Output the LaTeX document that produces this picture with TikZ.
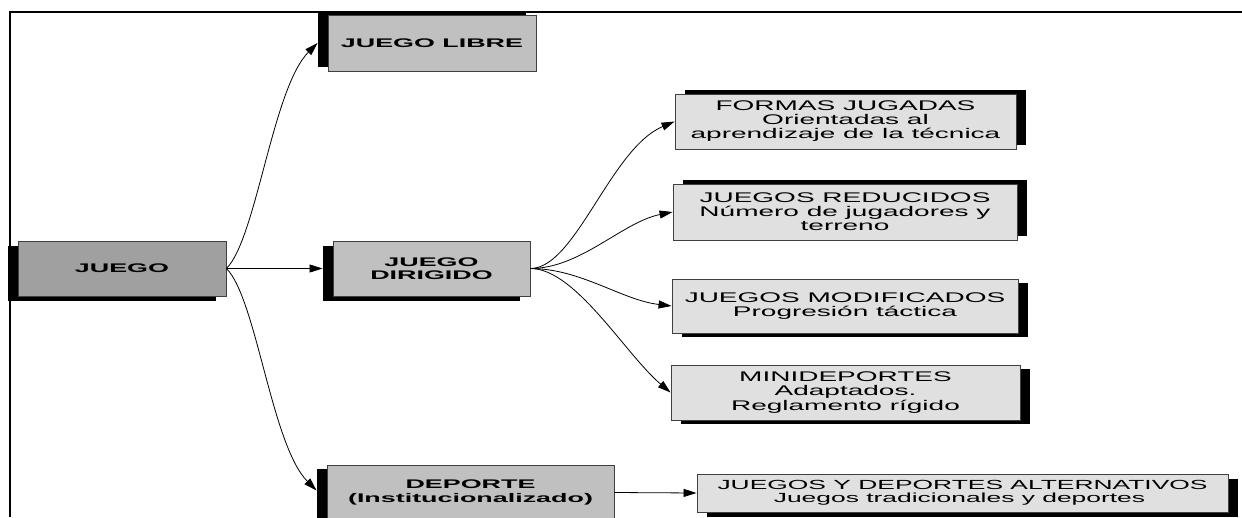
\documentclass[tikz,border=0pt]{standalone}
\usepackage{fontspec}
\setmainfont{Liberation Sans}
\newfontfamily\stretchfont[FakeStretch=2.0]{Liberation Sans}
\newfontfamily\stretchbold[FakeStretch=2.15]{Liberation Sans}
\usetikzlibrary{arrows.meta,shadows,calc}
\definecolor{darkfill}{HTML}{A0A0A0}
\definecolor{midfill}{HTML}{C0C0C0}
\definecolor{lightfill}{HTML}{E0E0E0}
\definecolor{boxline}{HTML}{404040}
\begin{document}
\begin{tikzpicture}[x=1pt,y=-1pt,
  box/.style={draw=boxline, line width=0.9pt, inner sep=0pt, align=center, text=black},
  boldbox/.style={box, font=\stretchbold\bfseries\fontsize{12.5pt}{13.5pt}\selectfont},
  textbox/.style={box, fill=lightfill, font=\stretchfont\fontsize{14pt}{14pt}\selectfont},
  shadowat/.style 2 args={general shadow={fill=black, shadow xshift=#1, shadow yshift=#2}},
  conn/.style={draw=black, line width=0.8pt, -{Triangle[length=13pt,width=8pt]}},
  frameline/.style={line width=1.3pt}
]
\useasboundingbox (0,0) rectangle (1242,517);
\clip (0,0) rectangle (1242,517);
\fill[white] (0,0) rectangle (1242,517);
\draw[frameline] (10,517) -- (10,12) -- (1242,12);

\node[boldbox, fill=darkfill, minimum width=208pt, minimum height=55pt, shadowat={-10pt}{-5pt}] (juego) at (122,268.5) {JUEGO};
\node[boldbox, fill=midfill, minimum width=208pt, minimum height=56pt, shadowat={-10pt}{4pt}] (libre) at (432,43) {JUEGO LIBRE};
\node[boldbox, fill=midfill, minimum width=197pt, minimum height=55pt, shadowat={-10pt}{-5pt}] (dirigido) at (431.5,268.5) {JUEGO\\DIRIGIDO};
\node[boldbox, fill=midfill, minimum width=287pt, minimum height=55pt, shadowat={-10pt}{-4pt}] (deporte) at (470.5,492.5) {DEPORTE\\(Institucionalizado)};

\node[textbox, minimum width=341pt, minimum height=55pt, shadowat={10pt}{4pt}] (formas) at (845.5,121.5) {FORMAS JUGADAS\\Orientadas al\\aprendizaje de la técnica};
\node[textbox, minimum width=344pt, minimum height=56pt, shadowat={10pt}{4pt}] (reducidos) at (845,212) {JUEGOS REDUCIDOS\\Número de jugadores y\\terreno};
\node[textbox, minimum width=346pt, minimum height=54pt, shadowat={10pt}{-4pt}] (modificados) at (845,306) {JUEGOS MODIFICADOS\\Progresión táctica};
\node[textbox, font=\stretchfont\fontsize{14pt}{14.5pt}\selectfont, minimum width=349pt, minimum height=55pt, shadowat={10pt}{-4pt}] (mini) at (845.5,392.5) {MINIDEPORTES\\Adaptados.\\Reglamento rígido};
\node[textbox, font=\stretchfont\fontsize{13.2pt}{13pt}\selectfont, minimum width=531pt, minimum height=38pt, shadowat={10pt}{-5pt}] (altern) at (962.5,493) {JUEGOS Y DEPORTES ALTERNATIVOS\\Juegos tradicionales y deportes\hspace*{6pt}};

\draw[conn] (juego.east) .. controls +(30,-30) and +(-45,45) .. ([xshift=-10pt]libre.west);
\draw[conn] (juego.east) -- ([xshift=-10pt]dirigido.west);
\draw[conn] (juego.east) .. controls +(30,30) and +(-45,-45) .. ([xshift=-10pt,yshift=2pt]deporte.west);

\draw[conn] (dirigido.east) .. controls +(45,0) and +(-64,27) .. (formas.west);
\draw[conn] (dirigido.east) .. controls +(50,0) and +(-50,10) .. (reducidos.west);
\draw[conn] (dirigido.east) .. controls +(50,0) and +(-50,-6) .. (modificados.west);
\draw[conn] (dirigido.east) .. controls +(45,0) and +(-45,-38) .. (mini.west);
\draw[conn] (deporte.east) -- (altern.west);
\end{tikzpicture}
\end{document}
